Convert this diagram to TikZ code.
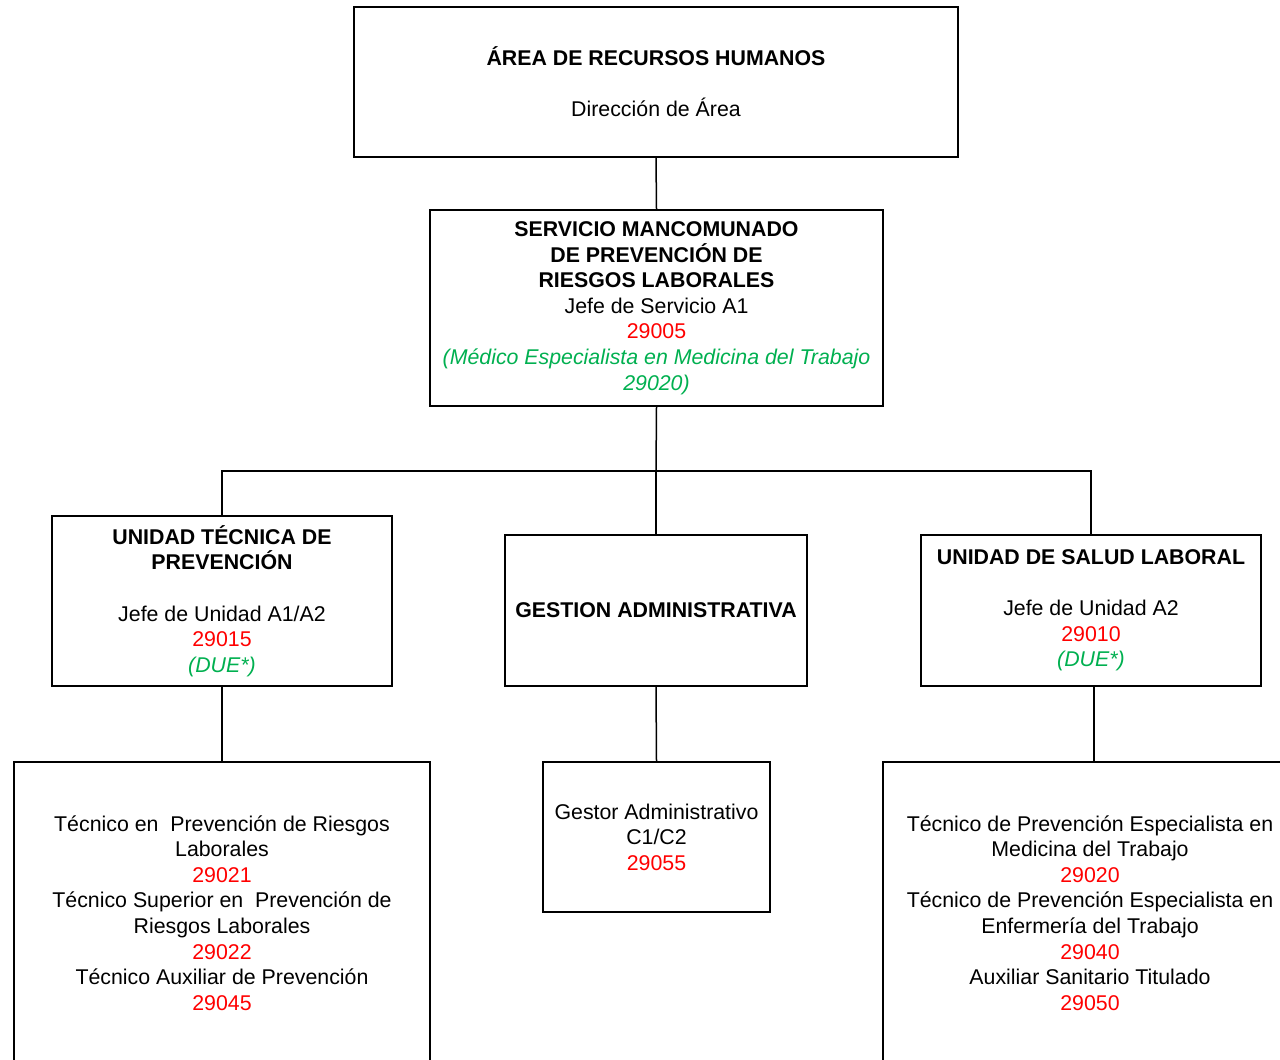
\documentclass[tikz,border=0pt]{standalone}
\usepackage{fontspec}
\setmainfont{Liberation Sans}
\definecolor{codered}{RGB}{255,0,0}
\definecolor{notegreen}{RGB}{0,176,80}
\newcommand{\cod}[1]{\textcolor{codered}{#1}}
\newcommand{\nota}[1]{\textcolor{notegreen}{\itshape #1}}
\begin{document}
\begin{tikzpicture}[x=0.75pt,y=-0.75pt,line width=1.125pt,
  orgbox/.style={draw=black,rectangle,inner sep=0pt,align=center,
    font=\fontsize{16}{19.2}\selectfont},
  conn/.style={draw=black,line width=1.125pt}]
\useasboundingbox (0,0) rectangle (1280,1059);
\clip (0,0) rectangle (1280,1059);
\fill[white] (0,0) rectangle (1280,1059);

\node[orgbox,minimum width=453pt,minimum height=112.5pt] (top) at (656,82)
  {\textbf{ÁREA DE RECURSOS HUMANOS}\\[19.2pt]Dirección de Área};

\node[orgbox,minimum width=339.75pt,minimum height=147pt] (serv) at (656.5,308)
  {\textbf{SERVICIO MANCOMUNADO}\\\textbf{DE PREVENCIÓN DE}\\\textbf{RIESGOS LABORALES}\\
   Jefe de Servicio A1\\\cod{29005}\\
   \nota{(Médico Especialista en Medicina del Trabajo}\\\nota{29020)}};

\node[orgbox,minimum width=255pt,minimum height=127.5pt] (ut) at (222,601)
  {\textbf{UNIDAD TÉCNICA DE}\\\textbf{PREVENCIÓN}\\[19.2pt]
   Jefe de Unidad A1/A2\\\cod{29015}\\\nota{(DUE*)}};

\node[orgbox,minimum width=226.5pt,minimum height=113.25pt] (gest) at (656,610.5)
  {\textbf{GESTION ADMINISTRATIVA}};

\node[orgbox,minimum width=255pt,minimum height=113.25pt] (salud) at (1091,610.5)
  {\textbf{UNIDAD DE SALUD LABORAL}\\[19.2pt]
   Jefe de Unidad A2\\\cod{29010}\\\nota{(DUE*)}};

\node[orgbox,minimum width=312pt,minimum height=226.5pt] (bl) at (222,913)
  {Técnico en~ Prevención de Riesgos\\Laborales\\\cod{29021}\\
   Técnico Superior en~ Prevención de\\Riesgos Laborales\\\cod{29022}\\
   Técnico Auxiliar de Prevención\\\cod{29045}};

\node[orgbox,minimum width=170.25pt,minimum height=112.5pt] (gestor) at (656.5,837)
  {Gestor Administrativo\\C1/C2\\\cod{29055}};

\node[orgbox,minimum width=310.5pt,minimum height=226.5pt] (br) at (1090,913)
  {Técnico de Prevención Especialista en\\Medicina del Trabajo\\\cod{29020}\\
   Técnico de Prevención Especialista en\\Enfermería del Trabajo\\\cod{29040}\\
   Auxiliar Sanitario Titulado\\\cod{29050}};

\coordinate (bar) at (656,471);
\draw[conn] (top.south) -- (serv.north);
\draw[conn] (serv.south) -- (bar);
\draw[conn] (bar) -| (ut.north);
\draw[conn] (bar) -| (salud.north);
\draw[conn] (bar) -- (gest.north);
\draw[conn] (ut.south) -- (bl.north);
\draw[conn] (gest.south) -- (gestor.north);
\draw[conn] ([xshift=2.25pt]salud.south) -- ([xshift=2.25pt]salud.south |- br.north);
\end{tikzpicture}
\end{document}
